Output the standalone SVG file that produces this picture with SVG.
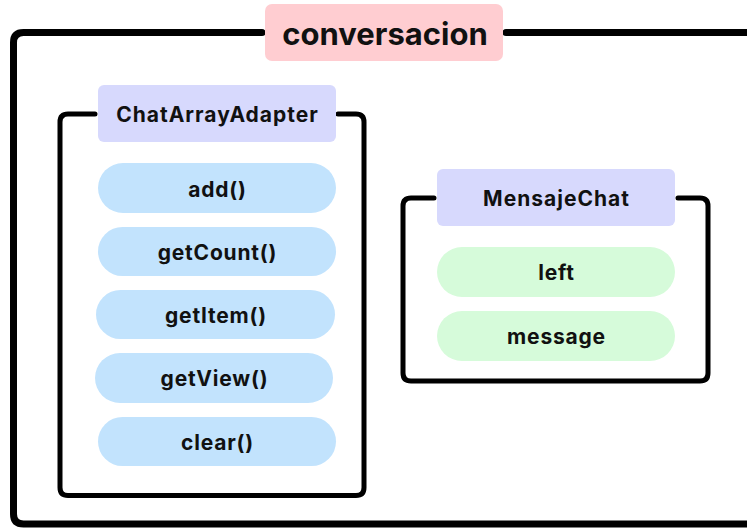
<svg xmlns="http://www.w3.org/2000/svg" width="747" height="529" viewBox="0 0 747 529">
  <style>
    .frame { fill: none; stroke: #000; stroke-linecap: round; stroke-linejoin: round; }
    .outer { stroke-width: 7; }
    .inner { stroke-width: 5; }
    .label { font-family: "Inter", "Liberation Sans", sans-serif; font-weight: 700; fill: #111; text-anchor: middle; dominant-baseline: central; }
    .title { font-size: 31px; }
    .head { font-size: 21px; letter-spacing: 1px; }
    .item { font-size: 21px; letter-spacing: 0.8px; }
    .pink { fill: #FFCDD1; }
    .lav { fill: #D7D9FD; }
    .blue { fill: #C2E3FD; }
    .green { fill: #D6FBDA; }
  </style>
  <rect width="747" height="529" fill="#fff"/>

  <!-- container outlines -->
  <g id="connectors">
    <path class="frame outer" d="M262 32.5 H23.5 Q13.5 32.5 13.5 42.5 V514 Q13.5 524 23.5 524 H760"/>
    <path class="frame outer" d="M506 32.5 H760"/>
    <path class="frame inner" d="M95 114 H68 Q60 114 60 122 V487.5 Q60 495.5 68 495.5 H356 Q364 495.5 364 487.5 V122 Q364 114 356 114 H338"/>
    <path class="frame inner" d="M434 198 H411 Q403 198 403 206 V373 Q403 381 411 381 H700 Q708 381 708 373 V206 Q708 198 700 198 H678"/>
  </g>

  <g id="conversacion">
    <rect class="pink" x="265" y="4" width="238" height="57" rx="7"/>
    <text class="label title" x="385" y="33">conversacion</text>
  </g>

  <g id="ChatArrayAdapter">
    <rect class="lav" x="98" y="85" width="238" height="57" rx="6"/>
    <text class="label head" x="217.5" y="114">ChatArrayAdapter</text>
  </g>
  <g id="add">
    <rect class="blue" x="98" y="163" width="238" height="50" rx="25"/>
    <text class="label item" x="217.5" y="189">add()</text>
  </g>
  <g id="getCount">
    <rect class="blue" x="98" y="227" width="238" height="49" rx="24.5"/>
    <text class="label item" x="217.5" y="252">getCount()</text>
  </g>
  <g id="getItem">
    <rect class="blue" x="96" y="290" width="239" height="49" rx="24.5"/>
    <text class="label item" x="216" y="315">getItem()</text>
  </g>
  <g id="getView">
    <rect class="blue" x="95" y="353" width="238" height="50" rx="25"/>
    <text class="label item" x="214.5" y="378.5">getView()</text>
  </g>
  <g id="clear">
    <rect class="blue" x="98" y="417" width="238" height="49" rx="24.5"/>
    <text class="label item" x="217.5" y="442">clear()</text>
  </g>

  <g id="MensajeChat">
    <rect class="lav" x="437" y="169" width="238" height="57" rx="6"/>
    <text class="label head" x="556.5" y="198">MensajeChat</text>
  </g>
  <g id="left">
    <rect class="green" x="437" y="247" width="238" height="50" rx="25"/>
    <text class="label item" x="556.5" y="272.5">left</text>
  </g>
  <g id="message">
    <rect class="green" x="437" y="311" width="238" height="50" rx="25"/>
    <text class="label item" x="556.5" y="336.5">message</text>
  </g>
</svg>
